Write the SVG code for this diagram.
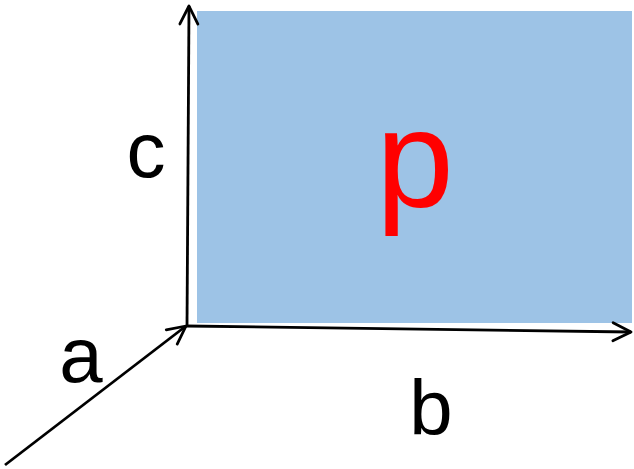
<svg xmlns="http://www.w3.org/2000/svg" width="634" height="469" viewBox="0 0 634 469">
<style>
.lbl{font-family:"Liberation Sans",Arial,sans-serif;font-size:78px;fill:#000;text-anchor:middle}
.ax{stroke:#000;stroke-width:2.8;fill:none}
</style>
<defs>
<marker id="arr" viewBox="0 0 24 24" refX="21" refY="12" markerWidth="24" markerHeight="24" markerUnits="userSpaceOnUse" orient="auto">
<path d="M3,3 L21,12 L3,21" fill="none" stroke="#000" stroke-width="2.8" stroke-linecap="round" stroke-linejoin="round"/>
</marker>
</defs>
<g id="plane">
<rect x="197" y="11" width="435" height="312" fill="#9DC3E6"/>
<text x="415" y="207" font-family="Liberation Sans, Arial, sans-serif" font-size="140" fill="#FF0000" text-anchor="middle">p</text>
</g>
<g id="connectors">
<line class="ax" x1="187" y1="326" x2="189" y2="6" marker-end="url(#arr)"/>
<line class="ax" x1="186" y1="326" x2="631" y2="332" marker-end="url(#arr)"/>
<line class="ax" x1="5" y1="465" x2="186" y2="326" marker-end="url(#arr)"/>
</g>
<g id="label-c"><text class="lbl" x="146" y="177">c</text></g>
<g id="label-a"><text class="lbl" x="81" y="382">a</text></g>
<g id="label-b"><text class="lbl" x="431" y="435">b</text></g>
</svg>
